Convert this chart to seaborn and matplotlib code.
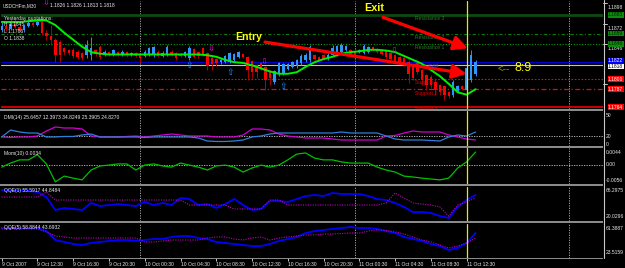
import matplotlib
matplotlib.use("Agg")
import matplotlib.pyplot as plt
import matplotlib.transforms as mtransforms
from matplotlib.patches import Rectangle
from matplotlib.lines import Line2D
import numpy as np
import pandas as pd
import seaborn as sns

# ---------------- data ----------------
symbol_name = "USDCHFm,M30"
last_quote = "1.1826 1.1826 1.1813 1.1818"
yesterday_lines = ["Yesterday quotations:", "H 1.1845", "L 1.1786", "O 1.1838"]

bar_open = [
    1.1864, 1.1869, 1.1865, 1.1871, 1.1867, 1.1864, 1.1869, 1.1873, 1.1870, 1.1874,
    1.1860, 1.1856, 1.1851, 1.1848, 1.1840, 1.1838, 1.1838, 1.1835, 1.1834, 1.1831,
    1.1831, 1.1838, 1.1842, 1.1831, 1.1835, 1.1831, 1.1835, 1.1831, 1.1835, 1.1831,
    1.1834, 1.1831, 1.1830, 1.1831, 1.1831, 1.1835, 1.1830, 1.1831, 1.1835, 1.1834,
    1.1833, 1.1830, 1.1827, 1.1839, 1.1835, 1.1840, 1.1834, 1.1827, 1.1826, 1.1822,
    1.1822, 1.1822, 1.1825, 1.1829, 1.1833, 1.1829, 1.1824, 1.1818, 1.1821, 1.1816,
    1.1811, 1.1796, 1.1807, 1.1808, 1.1813, 1.1816, 1.1817, 1.1821, 1.1825, 1.1825,
    1.1831, 1.1829, 1.1831, 1.1826, 1.1831, 1.1831, 1.1835, 1.1838, 1.1838, 1.1835,
    1.1835, 1.1834, 1.1835, 1.1842, 1.1839, 1.1838, 1.1836, 1.1834, 1.1831, 1.1829,
    1.1827, 1.1822, 1.1816, 1.1821, 1.1812, 1.1805, 1.1803, 1.1796, 1.1792, 1.1791,
    1.1783, 1.1780, 1.1785, 1.1791, 1.1786, 1.1799, 1.1807]
bar_close = [
    1.1869, 1.1865, 1.1871, 1.1867, 1.1864, 1.1869, 1.1873, 1.1870, 1.1874, 1.1860,
    1.1856, 1.1851, 1.1831, 1.1831, 1.1835, 1.1834, 1.1830, 1.1829, 1.1827, 1.1844,
    1.1840, 1.1833, 1.1829, 1.1835, 1.1833, 1.1838, 1.1831, 1.1835, 1.1831, 1.1834,
    1.1830, 1.1827, 1.1835, 1.1840, 1.1842, 1.1830, 1.1834, 1.1842, 1.1831, 1.1827,
    1.1830, 1.1835, 1.1840, 1.1829, 1.1830, 1.1831, 1.1817, 1.1820, 1.1821, 1.1825,
    1.1830, 1.1834, 1.1833, 1.1835, 1.1829, 1.1812, 1.1809, 1.1809, 1.1814, 1.1799,
    1.1801, 1.1811, 1.1821, 1.1820, 1.1820, 1.1822, 1.1825, 1.1830, 1.1831, 1.1842,
    1.1826, 1.1825, 1.1826, 1.1831, 1.1840, 1.1843, 1.1844, 1.1843, 1.1833, 1.1831,
    1.1838, 1.1843, 1.1842, 1.1839, 1.1835, 1.1833, 1.1829, 1.1826, 1.1824, 1.1822,
    1.1820, 1.1807, 1.1801, 1.1809, 1.1799, 1.1792, 1.1792, 1.1786, 1.1783, 1.1780,
    1.1778, 1.1796, 1.1791, 1.1787, 1.1814, 1.1831, 1.1822]
bar_high = [
    1.1874, 1.1871, 1.1876, 1.1879, 1.1870, 1.1871, 1.1876, 1.1875, 1.1878, 1.1878,
    1.1864, 1.1870, 1.1853, 1.1851, 1.1842, 1.1839, 1.1840, 1.1838, 1.1835, 1.1851,
    1.1854, 1.1839, 1.1844, 1.1838, 1.1836, 1.1839, 1.1836, 1.1838, 1.1836, 1.1835,
    1.1835, 1.1834, 1.1838, 1.1842, 1.1843, 1.1838, 1.1836, 1.1844, 1.1838, 1.1835,
    1.1834, 1.1836, 1.1843, 1.1840, 1.1836, 1.1842, 1.1835, 1.1830, 1.1827, 1.1827,
    1.1831, 1.1835, 1.1834, 1.1836, 1.1834, 1.1830, 1.1825, 1.1820, 1.1822, 1.1817,
    1.1812, 1.1812, 1.1822, 1.1821, 1.1821, 1.1824, 1.1826, 1.1833, 1.1834, 1.1844,
    1.1833, 1.1830, 1.1833, 1.1834, 1.1844, 1.1844, 1.1847, 1.1844, 1.1839, 1.1836,
    1.1839, 1.1845, 1.1843, 1.1843, 1.1840, 1.1839, 1.1838, 1.1835, 1.1833, 1.1830,
    1.1829, 1.1825, 1.1817, 1.1822, 1.1813, 1.1807, 1.1805, 1.1799, 1.1794, 1.1792,
    1.1785, 1.1799, 1.1792, 1.1792, 1.1818, 1.1838, 1.1825]
bar_low = [
    1.1861, 1.1862, 1.1864, 1.1866, 1.1862, 1.1861, 1.1867, 1.1867, 1.1869, 1.1857,
    1.1851, 1.1844, 1.1822, 1.1822, 1.1831, 1.1831, 1.1827, 1.1826, 1.1825, 1.1827,
    1.1825, 1.1830, 1.1826, 1.1830, 1.1830, 1.1830, 1.1830, 1.1830, 1.1829, 1.1830,
    1.1829, 1.1821, 1.1829, 1.1830, 1.1829, 1.1829, 1.1829, 1.1830, 1.1830, 1.1825,
    1.1829, 1.1829, 1.1825, 1.1827, 1.1827, 1.1830, 1.1812, 1.1812, 1.1817, 1.1820,
    1.1821, 1.1821, 1.1824, 1.1827, 1.1827, 1.1799, 1.1801, 1.1801, 1.1812, 1.1786,
    1.1792, 1.1794, 1.1804, 1.1805, 1.1812, 1.1814, 1.1814, 1.1818, 1.1822, 1.1822,
    1.1825, 1.1824, 1.1825, 1.1825, 1.1830, 1.1830, 1.1834, 1.1836, 1.1831, 1.1830,
    1.1834, 1.1833, 1.1834, 1.1838, 1.1834, 1.1831, 1.1826, 1.1825, 1.1822, 1.1820,
    1.1817, 1.1795, 1.1799, 1.1807, 1.1792, 1.1786, 1.1789, 1.1780, 1.1780, 1.1773,
    1.1776, 1.1777, 1.1783, 1.1786, 1.1783, 1.1796, 1.1804]

# indicator samples every second bar (bar index 0, 2, ..., 106)
ind_bars = list(range(0, 107, 2))
ma_values = [
    1.1874, 1.1874, 1.1874, 1.1875, 1.1876, 1.1876, 1.1870, 1.1860, 1.1851, 1.1842,
    1.1835, 1.1833, 1.1832, 1.1832, 1.1832, 1.1832, 1.1832, 1.1832, 1.1832, 1.1832,
    1.1832, 1.1832, 1.1832, 1.1831, 1.1829, 1.1825, 1.1822, 1.1821, 1.1818, 1.1814,
    1.1810, 1.1807, 1.1807, 1.1809, 1.1816, 1.1822, 1.1826, 1.1829, 1.1833, 1.1835,
    1.1836, 1.1838, 1.1838, 1.1837, 1.1835, 1.1830, 1.1825, 1.1820, 1.1812, 1.1804,
    1.1794, 1.1783, 1.1780, 1.1787]
dmi_plus = [
    18.5, 17.8, 18.5, 18.5, 20.0, 27.5, 33.5, 32.0, 32.0, 30.5,
    20.0, 18.5, 18.5, 18.5, 19.3, 20.0, 18.5, 20.0, 21.5, 23.0,
    21.5, 20.0, 20.0, 20.0, 18.5, 18.5, 18.5, 21.5, 30.5, 30.5,
    29.0, 23.0, 20.0, 18.5, 17.0, 17.0, 17.0, 15.5, 14.0, 14.0,
    14.0, 14.0, 14.0, 20.0, 20.8, 24.5, 27.5, 26.0, 26.0, 26.0,
    21.5, 18.5, 15.5, 14.0]
dmi_minus = [
    18.5, 29.0, 26.0, 24.5, 24.5, 18.5, 18.5, 19.3, 19.3, 21.5,
    23.0, 18.5, 18.5, 18.5, 18.5, 18.5, 17.8, 18.5, 18.5, 18.5,
    18.5, 18.5, 17.0, 12.5, 11.8, 11.8, 12.5, 14.0, 18.5, 20.0,
    23.0, 24.5, 24.5, 24.5, 24.5, 24.5, 24.5, 24.5, 26.0, 24.5,
    24.5, 24.5, 24.5, 20.0, 15.5, 14.0, 14.0, 14.0, 13.3, 12.5,
    18.5, 21.5, 20.0, 26.0]
mom_values = [
    -0.0008, 0.0006, 0.0017, 0.0017, 0.0035, 0.0003, -0.0059, -0.0039, -0.0046, -0.0052,
    -0.0018, -0.0004, -0.0001, 0.0003, 0.0003, -0.0018, -0.0001, 0.0003, -0.0004, -0.0008,
    0.0006, -0.0001, -0.0008, -0.0018, -0.0004, -0.0001, -0.0008, -0.0025, -0.0011, -0.0001,
    -0.0008, -0.0001, 0.0017, 0.0037, 0.0041, 0.0023, 0.0017, 0.0017, 0.0010, 0.0006,
    0.0006, 0.0006, -0.0008, -0.0018, -0.0025, -0.0039, -0.0042, -0.0046, -0.0049, -0.0052,
    -0.0046, -0.0011, 0.0010, 0.0044]
qqe1_main = [
    66.3, 66.3, 66.3, 64.5, 62.8, 53.8, 30.7, 34.3, 32.5, 30.7,
    43.2, 37.8, 39.6, 41.4, 39.6, 37.8, 45.0, 39.6, 43.2, 39.6,
    52.1, 50.3, 39.6, 41.4, 34.3, 41.4, 50.3, 39.6, 30.7, 32.5,
    46.7, 46.7, 45.0, 50.3, 55.6, 57.4, 55.6, 61.0, 59.2, 59.2,
    59.2, 55.6, 50.3, 48.5, 43.2, 36.1, 27.1, 27.1, 25.4, 20.0,
    16.5, 36.1, 48.5, 57.4]
qqe1_signal = [
    53.8, 53.8, 53.8, 53.8, 53.8, 62.8, 48.5, 48.5, 48.5, 48.5,
    48.5, 48.5, 48.5, 48.5, 48.5, 48.5, 48.5, 48.5, 48.5, 48.5,
    48.5, 39.6, 39.6, 39.6, 39.6, 39.6, 32.5, 32.5, 32.5, 32.5,
    48.5, 48.5, 39.6, 39.6, 39.6, 39.6, 39.6, 39.6, 39.6, 39.6,
    39.6, 39.6, 39.6, 43.2, 61.0, 52.1, 43.2, 41.4, 39.6, 36.1,
    20.0, 39.6, 45.0, 52.1]
qqe5_main = [
    61.4, 61.4, 61.4, 61.4, 61.4, 56.8, 43.2, 40.2, 37.2, 35.6,
    38.7, 40.2, 41.7, 43.2, 43.2, 41.7, 43.2, 44.7, 44.7, 47.8,
    49.3, 49.3, 46.2, 44.7, 40.2, 38.7, 37.2, 35.6, 34.1, 34.1,
    37.2, 41.7, 44.7, 47.8, 53.8, 56.8, 58.4, 59.9, 61.4, 62.9,
    61.4, 61.4, 59.9, 56.8, 53.8, 47.8, 44.7, 41.7, 37.2, 34.1,
    28.0, 31.1, 38.7, 53.8]
qqe5_signal = [
    59.9, 59.9, 59.9, 59.9, 59.9, 55.3, 49.3, 47.8, 46.2, 46.2,
    46.2, 46.2, 46.2, 46.2, 46.2, 46.2, 40.2, 40.2, 41.7, 43.2,
    43.2, 43.2, 43.2, 46.2, 47.8, 47.8, 44.7, 43.2, 46.2, 47.8,
    43.2, 46.2, 47.8, 49.3, 50.8, 50.8, 52.3, 52.3, 53.0, 53.8,
    53.8, 56.8, 58.4, 57.6, 55.3, 52.3, 47.8, 43.2, 40.2, 35.6,
    31.1, 34.1, 38.7, 46.2]

level_prices = [1.1883, 1.1859, 1.1846, 1.1822, 1.1800, 1.1787, 1.1764]
level_names = ["Resistance 3", "Resistance 2", "Resistance 1", "Pivot level",
               "Support 1", "Support 2", "Support 3"]
level_box_labels = ["1.1883", "1.1859", "1.1846", "1.1822", "1.1800", "1.1787", "1.1764"]
bid_price = 1.1818
bid_label = "1.1818"
scale_prices = [1.1898, 1.1872, 1.1846, 1.1794]
scale_labels = ["1.1898", "1.1872", "1.1846", "1.1794"]

sell_signal_bars = [10.0, 46.9, 58.7, 87.8]
sell_signal_prices = [1.1898, 1.1839, 1.1822, 1.1836]
buy_signal_bars = [41.9, 51.1, 62.9]
buy_signal_prices = [1.1818, 1.1809, 1.1790]

date_tick_bars = [0, 8, 16, 24, 32, 40, 48, 56, 64, 72, 80, 88, 96, 104]
date_tick_labels = ["9 Oct 2007", "9 Oct 12:30", "9 Oct 16:30", "9 Oct 20:30",
                    "10 Oct 00:30", "10 Oct 04:30", "10 Oct 08:30", "10 Oct 12:30",
                    "10 Oct 16:30", "10 Oct 20:30", "11 Oct 00:30", "11 Oct 04:30",
                    "11 Oct 08:30", "11 Oct 12:30"]
day_separator_bars = [31, 79, 127]
highlight_bar = 104

dmi_label = "DMI(14) 25.6457 12.3973 34.8249 25.3905 24.8270"
mom_label = "Mom(10) 0.0034"
qqe1_label = "QQE(1) 55.5917 44.8484"
qqe5_label = "QQE(5) 58.8844 43.6932"
dmi_scale = ["50", "20", "0"]
mom_scale = ["0.0044", "0.00", "-0.0056"]
qqe1_scale = ["66.2975", "20.0296"]
qqe5_scale = ["61.3887", "23.5159"]
dmi_level = 20
mom_level = 0.0

entry_text = "Entry"
exit_text = "Exit"
timer_arrow = "<--"
timer_text = "8:9"

# ---------------- style ----------------
sns.set_theme(style="dark", rc={"axes.facecolor": "black", "figure.facecolor": "black"})
plt.rcParams["font.family"] = ["Liberation Sans", "DejaVu Sans"]

W_PX, H_PX = 625, 268
fig = plt.figure(figsize=(6.25, 2.68), dpi=100, facecolor="black")


def rect(top, bot, left=1, right=603):
    return [left / W_PX, 1 - bot / H_PX, (right - left) / W_PX, (bot - top) / H_PX]


def fpos(x, y):
    return x / W_PX, 1 - y / H_PX


XLIM = (-0.15, 134.5)
FS = 3.6
WHITE = "#e8e8e8"

ax_main = fig.add_axes(rect(1, 108.5))
ax_dmi = fig.add_axes(rect(111, 145.5))
ax_mom = fig.add_axes(rect(148, 183.5))
ax_q1 = fig.add_axes(rect(186.5, 221))
ax_q5 = fig.add_axes(rect(223.5, 257.5))
axes = [ax_main, ax_dmi, ax_mom, ax_q1, ax_q5]

ax_main.set_ylim(1.17621, 1.19011)
ax_dmi.set_ylim(5.75, 57.5)
ax_mom.set_ylim(-0.00645, 0.0058)
ax_q1.set_ylim(11.13, 72.54)
ax_q5.set_ylim(16.7, 68.2)

for ax in axes:
    ax.set_facecolor("black")
    ax.set_xlim(XLIM)
    ax.grid(False)
    for s in ax.spines.values():
        s.set_visible(False)
    for b in day_separator_bars:
        ax.axvline(b, color="#b8b8b8", lw=0.6, ls=(0, (1.5, 1.5)), zorder=1)
    ax.axvline(highlight_bar, color="#e8e800", lw=0.9, zorder=6)

# ---------------- main price panel ----------------
df = pd.DataFrame({"bar": np.arange(len(bar_open)), "open": bar_open,
                   "close": bar_close, "high": bar_high, "low": bar_low})
up = df["close"] >= df["open"]
body_col = np.where(up, "#2f95ff", "#ff0000")
wick_col = np.where(up, "#2f8cf0", "#b00000")
ax_main.vlines(df["bar"], df["low"], df["high"], colors=wick_col, lw=0.7, zorder=3)
body_h = (df["close"] - df["open"]).abs().clip(lower=0.00006)
ax_main.bar(df["bar"], body_h, bottom=df[["open", "close"]].min(axis=1),
            width=0.55, color=body_col, linewidth=0, zorder=4)

level_styles = [
    dict(color="#0f4a0f", lw=2.0, ls="-"),
    dict(color="#0a7a0a", lw=0.8, ls=(0, (3, 2, 1, 2))),
    dict(color="#0a9a0a", lw=0.8, ls=(0, (1, 1.5))),
    dict(color="#0000d0", lw=0.9, ls="-"),
    dict(color="#ff0000", lw=0.8, ls=(0, (1.5, 1.5))),
    dict(color="#ff0000", lw=0.9, ls=(0, (4, 2, 1, 2))),
    dict(color="#ff0000", lw=1.1, ls="-"),
]
level_text_colors = ["#2f7a2f", "#2f7a2f", "#2f7a2f", "#3a3aff", "#e00000", "#e00000", "#e00000"]
level_box_colors = ["#0c8a0c", "#0c8a0c", "#0c8a0c", "#0000ff", "#ff0000", "#ff0000", "#ff0000"]
level_box_text = ["#002800", "#002800", "#002800", "white", "white", "white", "white"]
level_label_drop = [0.00048, 0.00048, 0.00048, 0.00040, 0.00040, 0.00050, 0.00030]
level_box_shift = [0, 0, 0, 1.2, 0, 0, 0]

for p, st in zip(level_prices, level_styles):
    ax_main.axhline(p, zorder=2, **st)
ax_main.axhline(bid_price, color="#c0c0c0", lw=0.8, zorder=2)

for p, name, c, d in zip(level_prices, level_names, level_text_colors, level_label_drop):
    ax_main.text(92.4, p - d, name, color=c, fontsize=FS, va="center", ha="left", zorder=5)

sns.lineplot(x=ind_bars, y=ma_values, ax=ax_main, color="#00f000", lw=1.4, zorder=5)

# signal arrows
for b, p in zip(sell_signal_bars, sell_signal_prices):
    ax_main.text(b, p, "\u21e9", color="#ff00ff", fontsize=6.0, ha="center", va="center",
                 family=["DejaVu Sans"], zorder=7)
for b, p in zip(buy_signal_bars, buy_signal_prices):
    ax_main.text(b, p, "\u21e7", color="#1e90ff", fontsize=6.5, ha="center", va="center",
                 family=["DejaVu Sans"], zorder=7)

# annotations
arrow_kw = dict(arrowstyle="-|>,head_length=0.7,head_width=0.35", color="#ff0000", lw=2.3,
                shrinkA=0, shrinkB=0, mutation_scale=12)
ax_main.annotate("", xy=(104.0, 1.1807), xytext=(58.9, 1.1848), arrowprops=arrow_kw, zorder=8)
ax_main.annotate("", xy=(104.3, 1.1840), xytext=(85.3, 1.1880), arrowprops=arrow_kw, zorder=8)
ax_main.text(55.2, 1.1855, entry_text, color="#ffff00", fontsize=7.6, fontweight="bold",
             ha="center", va="center", zorder=9)
ax_main.text(83.3, 1.1892, exit_text, color="#ffff00", fontsize=7.8, fontweight="bold",
             ha="center", va="center", zorder=9)
ax_main.text(111.0, 1.1814, timer_arrow, color="#9a9a00", fontsize=7, ha="left", va="center", zorder=9)
ax_main.text(114.6, 1.1814, timer_text, color="#ffff00", fontsize=9, ha="left", va="center", zorder=9)

# right price scale
blend = mtransforms.blended_transform_factory(ax_main.transAxes, ax_main.transData)
for p, lab in zip(scale_prices, scale_labels):
    ax_main.add_line(Line2D([1.0, 1.006], [p, p], transform=blend, color=WHITE, lw=0.6, clip_on=False))
    ax_main.annotate(lab, xy=(1.0, p), xycoords=blend, xytext=(5, -4.5), textcoords="offset pixels",
                     color=WHITE, fontsize=FS, ha="left", va="center", annotation_clip=False)
for p, lab, fc, tc, sh in zip(level_prices, level_box_labels, level_box_colors, level_box_text,
                              level_box_shift):
    ax_main.annotate(lab, xy=(1.0, p), xycoords=blend, xytext=(5, sh), textcoords="offset pixels",
                     color=tc, fontsize=FS, ha="left", va="center", annotation_clip=False,
                     bbox=dict(boxstyle="square,pad=0.08", fc=fc, ec="none"), zorder=9)
ax_main.annotate(bid_label, xy=(1.0, bid_price), xycoords=blend, xytext=(5, -1.2),
                 textcoords="offset pixels", color="black", fontsize=FS, ha="left", va="center",
                 annotation_clip=False, bbox=dict(boxstyle="square,pad=0.08", fc="white", ec="none"),
                 zorder=9)

# ---------------- indicator panels ----------------
sns.lineplot(x=ind_bars, y=dmi_plus, ax=ax_dmi, color="#d000d0", lw=0.9, zorder=3)
sns.lineplot(x=ind_bars, y=dmi_minus, ax=ax_dmi, color="#2f7fd8", lw=0.9, zorder=3)
ax_dmi.axhline(dmi_level, color="#c8c8c8", lw=0.6, ls=(0, (1.5, 1.5)), zorder=2)

sns.lineplot(x=ind_bars, y=mom_values, ax=ax_mom, color="#00c000", lw=0.9, zorder=3)
ax_mom.axhline(mom_level, color="#c8c8c8", lw=0.6, ls=(0, (1.5, 1.5)), zorder=2)

sns.lineplot(x=ind_bars, y=qqe1_main, ax=ax_q1, color="#0000ff", lw=1.3, zorder=3)
sns.lineplot(x=ind_bars, y=qqe1_signal, ax=ax_q1, color="#c000c0", lw=0.8,
             linestyle=(0, (1, 1.2)), zorder=3)
sns.lineplot(x=ind_bars, y=qqe5_main, ax=ax_q5, color="#0000ff", lw=1.3, zorder=3)
sns.lineplot(x=ind_bars, y=qqe5_signal, ax=ax_q5, color="#c000c0", lw=0.8,
             linestyle=(0, (1, 1.2)), zorder=3)

for ax in axes:
    ax.set_xlabel("")
    ax.set_ylabel("")
    ax.set_yticks([])
    ax.set_xticks([])
    if ax.get_legend() is not None:
        ax.get_legend().remove()

ax_q5.set_xticks(date_tick_bars)
ax_q5.set_xticklabels(date_tick_labels, ha="left", fontsize=FS, color=WHITE)
ax_q5.tick_params(axis="x", bottom=True, length=2, width=0.6, color=WHITE, pad=1.2)

# panel texts
fig.text(*fpos(3, 5.5), symbol_name, color=WHITE, fontsize=3.4, va="center", ha="left")
fig.text(*fpos(50, 5.5), last_quote, color=WHITE, fontsize=FS, va="center", ha="left")
for txt, y in zip(yesterday_lines, [18.3, 25.0, 31.7, 38.3]):
    fig.text(*fpos(4, y), txt, color=WHITE, fontsize=FS, va="center", ha="left")
for txt, y in zip([dmi_label, mom_label, qqe1_label, qqe5_label], [117.5, 153.5, 190.5, 228.0]):
    fig.text(*fpos(4, y), txt, color=WHITE, fontsize=FS, va="center", ha="left")

for labels, ys in [(dmi_scale, [116, 136, 144]), (mom_scale, [152.5, 165, 181]),
                   (qqe1_scale, [190, 216]), (qqe5_scale, [228, 253])]:
    for txt, y in zip(labels, ys):
        fig.text(*fpos(605.5, y), txt, color=WHITE, fontsize=FS, va="center", ha="left")

# separators and frame
for top, h in [(108.5, 2.2), (145.5, 2.2), (183.8, 2.2), (221.0, 2.2), (257.5, 1.0)]:
    fig.add_artist(Rectangle(fpos(0, top + h), 603 / W_PX, h / H_PX, transform=fig.transFigure,
                             color="#8a8a8a", lw=0, zorder=3))
fig.add_artist(Line2D([603.5 / W_PX, 603.5 / W_PX], [1 - 258 / H_PX, 1.0],
                      transform=fig.transFigure, color="#c8c8c8", lw=0.8, zorder=3))

fig.savefig("out.png", dpi=100, facecolor="black")
